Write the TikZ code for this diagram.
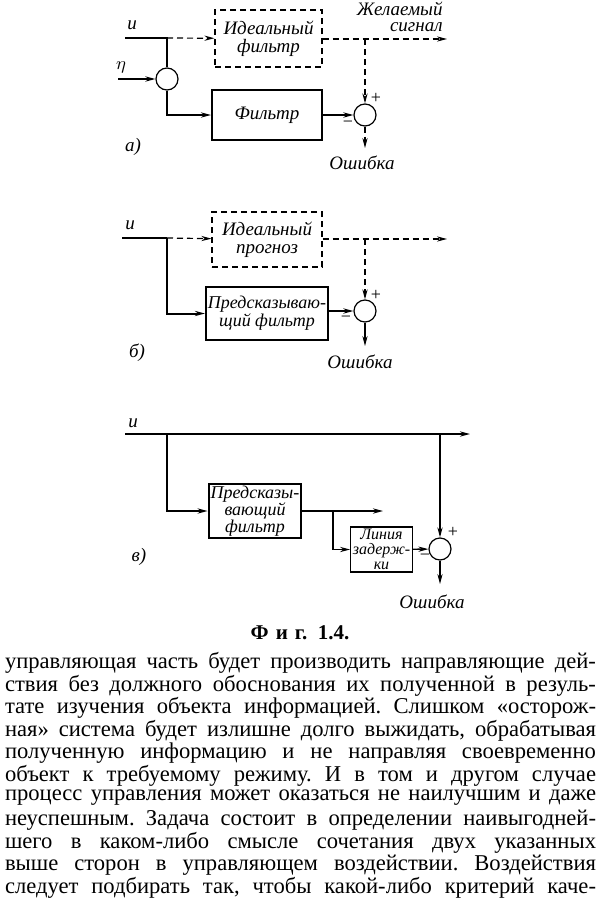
\documentclass[tikz,border=0pt]{standalone}
\usepackage{fontspec}
\setmainfont{Liberation Serif}
\usetikzlibrary{positioning, arrows.meta}
\frenchspacing

\begin{document}
\begin{tikzpicture}[
		x=0.5pt, y=-0.5pt,
		box/.style={draw, line width=1pt, align=center, inner sep=1pt, font=\itshape\fontsize{9.5}{9}\selectfont},
		dbox/.style={box, dashed, line width=0.6pt, dash pattern=on 3pt off 2pt},
		sumnode/.style={draw, circle, line width=0.6pt, minimum size=11pt, inner sep=0pt},
		sline/.style={line width=1pt},
		dline/.style={line width=0.6pt, dash pattern=on 3pt off 2pt},
		arrow/.style={-{Stealth[length=5pt, width=2.6pt]}},
		lbl/.style={font=\itshape\fontsize{9.5}{9}\selectfont, inner sep=0pt},
		sgn/.style={font=\fontsize{9}{9}\selectfont, inner sep=0pt}
	]
	\useasboundingbox (0,0) rectangle (600,916);

	% Nodes a)
	\coordinate (ua) at (125,38);
	\coordinate (ja) at (167,38);
	\coordinate (eta) at (118,79);
	\coordinate (ba) at (365,39);
	\coordinate (outa) at (447,39);
	\coordinate (erra) at (365,148);
	\node[dbox, minimum width=53.5pt, minimum height=28.5pt] (ida) at (268.5,38.5) {Идеальный\\фильтр};
	\node[box, minimum width=55pt, minimum height=25pt] (fa) at (267,115) {Фильтр};
	\node[sumnode] (sa1) at (167,79) {};
	\node[sumnode] (sa2) at (365,115) {};
	\node[lbl] at (132,25) {u};
	\node[lbl] at (121,67) {$\eta$};
	\node[lbl, align=right, anchor=east, font=\itshape\fontsize{9.5}{8}\selectfont] at (443,17) {Желаемый\\сигнал};
	\node[sgn] at (376,98) {+};
	\node[sgn] at (348,124) {−};
	\node[lbl] at (362,163) {Ошибка};
	\node[lbl] at (133,147) {а)};

	% Connections a)
	\draw[sline] (ua) -- (ja) -- (sa1);
	\draw[dline, arrow] (ja) -- (ida);
	\draw[sline, arrow] (eta) -- (sa1);
	\draw[sline, arrow] (sa1.south) |- (fa.west);
	\draw[sline, arrow] (fa) -- (sa2);
	\draw[dline, arrow] (ida.east |- ba) -- (outa);
	\draw[dline, arrow] (ba) -- (sa2);
	\draw[dline, arrow] (sa2) -- (erra);

	% Nodes b)
	\coordinate (ub) at (122,238);
	\coordinate (jb) at (167,238);
	\coordinate (bb) at (365,239);
	\coordinate (outb) at (447,239);
	\coordinate (errb) at (365,346);
	\node[dbox, minimum width=55pt, minimum height=27.5pt] (idb) at (267,239.5) {Идеальный\\прогноз};
	\node[box, minimum width=54pt, minimum height=26.5pt, font=\itshape\fontsize{9}{9}\selectfont] (pfb) at (267,313.5) {Предсказываю-\\щий фильтр};
	\node[sumnode] (sb) at (365,311) {};
	\node[lbl] at (130,225) {u};
	\node[sgn] at (376,295) {+};
	\node[sgn] at (346,319) {−};
	\node[lbl] at (360,362) {Ошибка};
	\node[lbl] at (137,353) {б)};

	% Connections b)
	\draw[sline] (ub) -- (jb);
	\draw[dline, arrow] (jb) -- (idb);
	\draw[sline, arrow] (jb) |- (pfb.west);
	\draw[sline, arrow] (pfb.east |- sb) -- (sb);
	\draw[dline, arrow] (idb.east |- bb) -- (outb);
	\draw[dline, arrow] (bb) -- (sb);
	\draw[line width=0.6pt, arrow] (sb) -- (errb);

	% Nodes c)
	\coordinate (uc) at (125,434);
	\coordinate (jc) at (167,434);
	\coordinate (bc) at (440,434);
	\coordinate (outc) at (470,434);
	\coordinate (kc) at (333,511);
	\coordinate (openc) at (383,511);
	\coordinate (errc) at (440,584);
	\node[box, minimum width=43pt, minimum height=26pt, font=\itshape\fontsize{9}{8.5}\selectfont] (pfc) at (255,511) {Предсказы-\\вающий\\фильтр};
	\node[box, line width=0.7pt, minimum width=26.5pt, minimum height=22.5pt, font=\itshape\fontsize{8}{7.5}\selectfont] (dlc) at (381.5,549.5) {Линия\\задерж-\\ки};
	\node[sumnode] (sc) at (440,549) {};
	\node[lbl] at (133,423) {u};
	\node[sgn] at (453,532) {+};
	\node[sgn] at (425,557) {−};
	\node[lbl] at (432,602) {Ошибка};
	\node[lbl] at (139,557) {в)};

	% Connections c)
	\draw[sline, arrow] (uc) -- (outc);
	\draw[sline, arrow] (jc) |- (pfc.west);
	\draw[sline, arrow] (pfc.east) -- (openc);
	\draw[line width=0.7pt, arrow] (kc) |- (dlc.west);
	\draw[line width=0.7pt, arrow] (dlc) -- (sc);
	\draw[line width=0.6pt, arrow] (bc) -- (sc);
	\draw[line width=0.6pt, arrow] (sc) -- (errc);

	% Caption and text
	\node[font=\bfseries\fontsize{10.5}{10.5}\selectfont] (cap) at (300,633) {Ф\,\,и\,\,г.\ \ 1.4.};
	\foreach \ln [count=\i] in {
		{управляющая часть будет производить направляющие дей-},
		{ствия без должного обоснования их полученной в резуль-},
		{тате изучения объекта информацией. Слишком «осторож-},
		{ная» система будет излишне долго выжидать, обрабатывая},
		{полученную информацию и не направляя своевременно},
		{объект к требуемому режиму. И в том и другом случае},
		{процесс управления может оказаться не наилучшим и даже},
		{неуспешным. Задача состоит в определении наивыгодней-},
		{шего в каком-либо смысле сочетания двух указанных},
		{выше сторон в управляющем воздействии. Воздействия},
		{следует подбирать так, чтобы какой-либо критерий каче-}}
		\node[inner sep=0pt, font=\fontsize{11.3}{11}\selectfont] (line\i) at (300.5,{640.5+22.5*\i}) {\makebox[295.5pt][s]{\ln}};
\end{tikzpicture}
\end{document}
